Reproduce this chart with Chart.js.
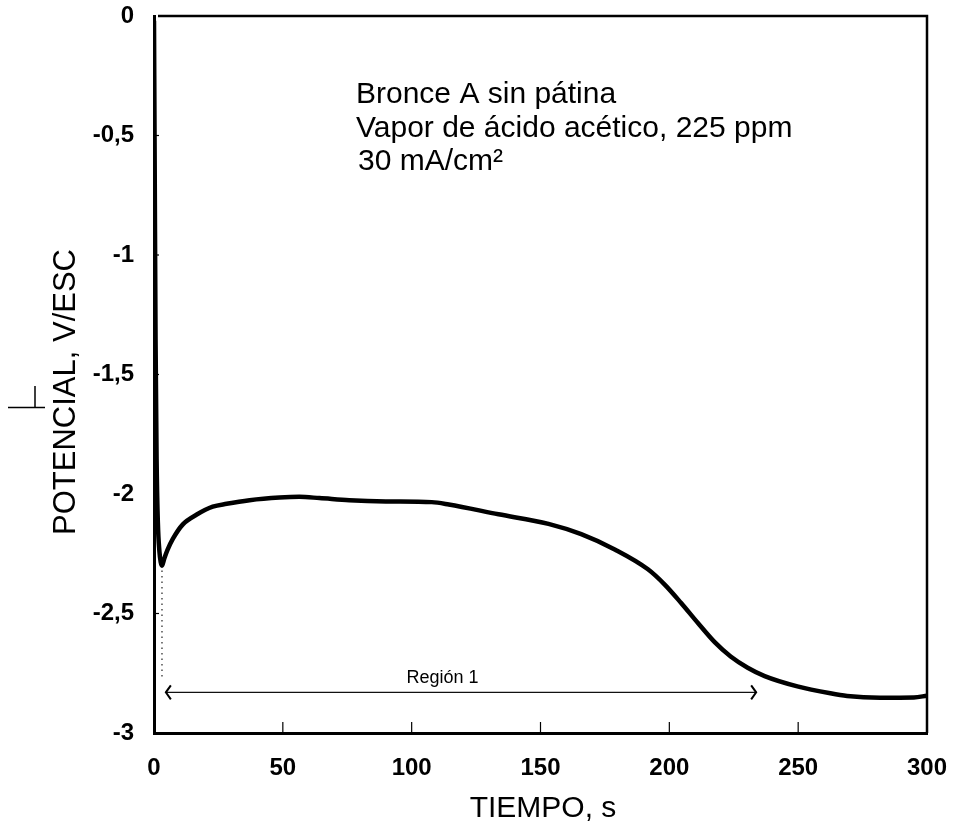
<!DOCTYPE html>
<html>
<head>
<meta charset="utf-8">
<script src="https://cdn.jsdelivr.net/npm/chart.js@4.4.1/dist/chart.umd.min.js"></script>
<style>
  html, body { margin: 0; padding: 0; background: #fff; }
  #wrap { width: 957px; height: 832px; position: relative; }
</style>
</head>
<body>
<div id="wrap"><canvas id="c" width="957" height="832"></canvas></div>
<script>
// Galvanostatic potential transient, bronze A without patina
const timeS = [0, 0.3, 0.6, 1.0, 1.5, 2.1, 2.6, 3.1, 4.0, 5.2, 7.3, 11.2, 16.6, 22.8, 28.2,
  37.1, 48.7, 56.4, 64.2, 75.8, 90, 107.8, 114.4, 133.7, 153.1, 165.8, 179.0, 191.7, 198.3,
  204.5, 211.1, 217.6, 223.8, 230.4, 237.0, 249.7, 262.5, 269.0, 281.8, 294.9, 300];
const potentialV = [-0.02, -0.7, -1.35, -1.85, -2.12, -2.24, -2.285, -2.30, -2.27, -2.235, -2.188,
  -2.127, -2.086, -2.053, -2.041, -2.026, -2.015, -2.012, -2.017, -2.026, -2.031, -2.034, -2.044,
  -2.085, -2.125, -2.168, -2.233, -2.315, -2.380, -2.455, -2.540, -2.620, -2.680, -2.727, -2.762,
  -2.805, -2.834, -2.845, -2.852, -2.851, -2.844];

// Region 1 span (s) and the potential level where its arrow sits
const regionStart = 4.6;
const regionEnd = 233.7;
const regionLevel = -2.83;
const regionLabel = 'Región 1';
const regionLabelAt = [112, -2.772];
// dotted guide dropping from the potential minimum
const minGuideT = 3.1;
const minGuideV = [-2.32, -2.78];

const xTickValues = [0, 50, 100, 150, 200, 250, 300];
const xTickLabels = ['0', '50', '100', '150', '200', '250', '300'];
const yTickValues = [0, -0.5, -1, -1.5, -2, -2.5, -3];
const yTickLabels = ['0', '-0,5', '-1', '-1,5', '-2', '-2,5', '-3'];

const xTitle = 'TIEMPO, s';
const yTitle = 'POTENCIAL, V/ESC';
const noteLines = ['Bronce A sin pátina', 'Vapor de ácido acético, 225 ppm', '30 mA/cm²'];

const FONT = "'Liberation Sans', Arial, Helvetica, sans-serif";

const curve = timeS.map((t, i) => ({ x: t, y: potentialV[i] }));

const decor = {
  id: 'decor',
  afterDraw(chart) {
    const { ctx, chartArea: a, scales: { x, y } } = chart;
    ctx.save();
    ctx.strokeStyle = '#000';
    ctx.fillStyle = '#000';
    ctx.lineCap = 'butt';

    // top and right frame
    ctx.lineWidth = 2.5;
    ctx.beginPath();
    ctx.moveTo(a.left + 4, a.top);
    ctx.lineTo(a.right, a.top);
    ctx.lineTo(a.right, a.bottom);
    ctx.stroke();

    // inward tick marks
    ctx.lineWidth = 1.2;
    xTickValues.forEach(v => {
      if (v <= x.min || v >= x.max) return;
      const px = x.getPixelForValue(v);
      ctx.beginPath(); ctx.moveTo(px, a.bottom); ctx.lineTo(px, a.bottom - 11); ctx.stroke();
    });
    yTickValues.forEach(v => {
      if (v <= y.min || v >= y.max) return;
      const py = y.getPixelForValue(v);
      ctx.beginPath(); ctx.moveTo(a.left, py); ctx.lineTo(a.left + 5, py); ctx.stroke();
    });

    // arrow heads of the Region 1 span
    const ly = y.getPixelForValue(regionLevel);
    const lx = x.getPixelForValue(regionStart);
    const rx = x.getPixelForValue(regionEnd);
    ctx.lineWidth = 2;
    ctx.beginPath();
    ctx.moveTo(lx + 5, ly - 7); ctx.lineTo(lx, ly); ctx.lineTo(lx + 5, ly + 7);
    ctx.moveTo(rx - 5, ly - 7); ctx.lineTo(rx, ly); ctx.lineTo(rx - 5, ly + 7);
    ctx.stroke();

    // Region 1 label
    ctx.font = '18px ' + FONT;
    ctx.textAlign = 'center';
    ctx.textBaseline = 'middle';
    ctx.fillText(regionLabel, x.getPixelForValue(regionLabelAt[0]), y.getPixelForValue(regionLabelAt[1]));

    // experiment notes
    ctx.font = '30px ' + FONT;
    ctx.textAlign = 'left';
    ctx.textBaseline = 'alphabetic';
    const noteX = a.left + 202;
    const noteY0 = a.top + 87;
    noteLines.forEach((t, i) => ctx.fillText(t, noteX + (i === 2 ? 2 : 0), noteY0 + i * 33.5));

    // axis titles
    ctx.font = '30px ' + FONT;
    ctx.textAlign = 'center';
    ctx.textBaseline = 'middle';
    ctx.fillText(xTitle, 543, 809);
    ctx.save();
    ctx.translate(66, 392);
    ctx.rotate(-Math.PI / 2);
    ctx.font = '31px ' + FONT;
    ctx.fillText(yTitle, 0, 0);
    ctx.restore();

    // stray pen mark beside the axis title
    ctx.lineWidth = 1.5;
    ctx.beginPath();
    ctx.moveTo(8, 407.5); ctx.lineTo(45, 407.5);
    ctx.moveTo(35, 386); ctx.lineTo(35, 407.5);
    ctx.stroke();

    ctx.restore();
  }
};

new Chart(document.getElementById('c'), {
  type: 'line',
  data: {
    datasets: [
      {
        data: curve,
        borderColor: '#000',
        borderWidth: 4.5,
        pointRadius: 0,
        cubicInterpolationMode: 'monotone',
        fill: false
      },
      {
        data: [{ x: regionStart, y: regionLevel }, { x: regionEnd, y: regionLevel }],
        borderColor: '#111',
        borderWidth: 1.3,
        pointRadius: 0,
        fill: false
      },
      {
        data: [{ x: minGuideT, y: minGuideV[0] }, { x: minGuideT, y: minGuideV[1] }],
        borderColor: '#222',
        borderWidth: 1.2,
        borderDash: [1.5, 4],
        pointRadius: 0,
        fill: false
      }
    ]
  },
  options: {
    responsive: false,
    animation: false,
    events: [],
    layout: { padding: { top: 16, right: 30, left: 0, bottom: 0 } },
    plugins: { legend: { display: false }, tooltip: { enabled: false }, title: { display: false } },
    scales: {
      x: {
        type: 'linear',
        min: 0,
        max: 300,
        grid: { display: false },
        border: { display: true, color: '#000', width: 3 },
        afterBuildTicks: s => { s.ticks = xTickValues.map(v => ({ value: v })); },
        afterFit: s => { s.height = 99; s.paddingLeft = 0; s.paddingRight = 0; },
        ticks: {
          color: '#000',
          padding: 13,
          autoSkip: false,
          maxRotation: 0,
          font: { family: FONT, size: 24, weight: 'bold' },
          callback: (v, i) => xTickLabels[i]
        }
      },
      y: {
        type: 'linear',
        min: -3,
        max: 0,
        grid: { display: false },
        border: { display: true, color: '#000', width: 3 },
        afterBuildTicks: s => { s.ticks = yTickValues.map(v => ({ value: v })); },
        afterFit: s => { s.width = 154; s.paddingTop = 0; s.paddingBottom = 0; },
        ticks: {
          color: '#000',
          padding: 12,
          autoSkip: false,
          font: { family: FONT, size: 24, weight: 'bold' },
          callback: (v, i) => yTickLabels[i]
        }
      }
    }
  },
  plugins: [decor]
});
</script>
</body>
</html>
